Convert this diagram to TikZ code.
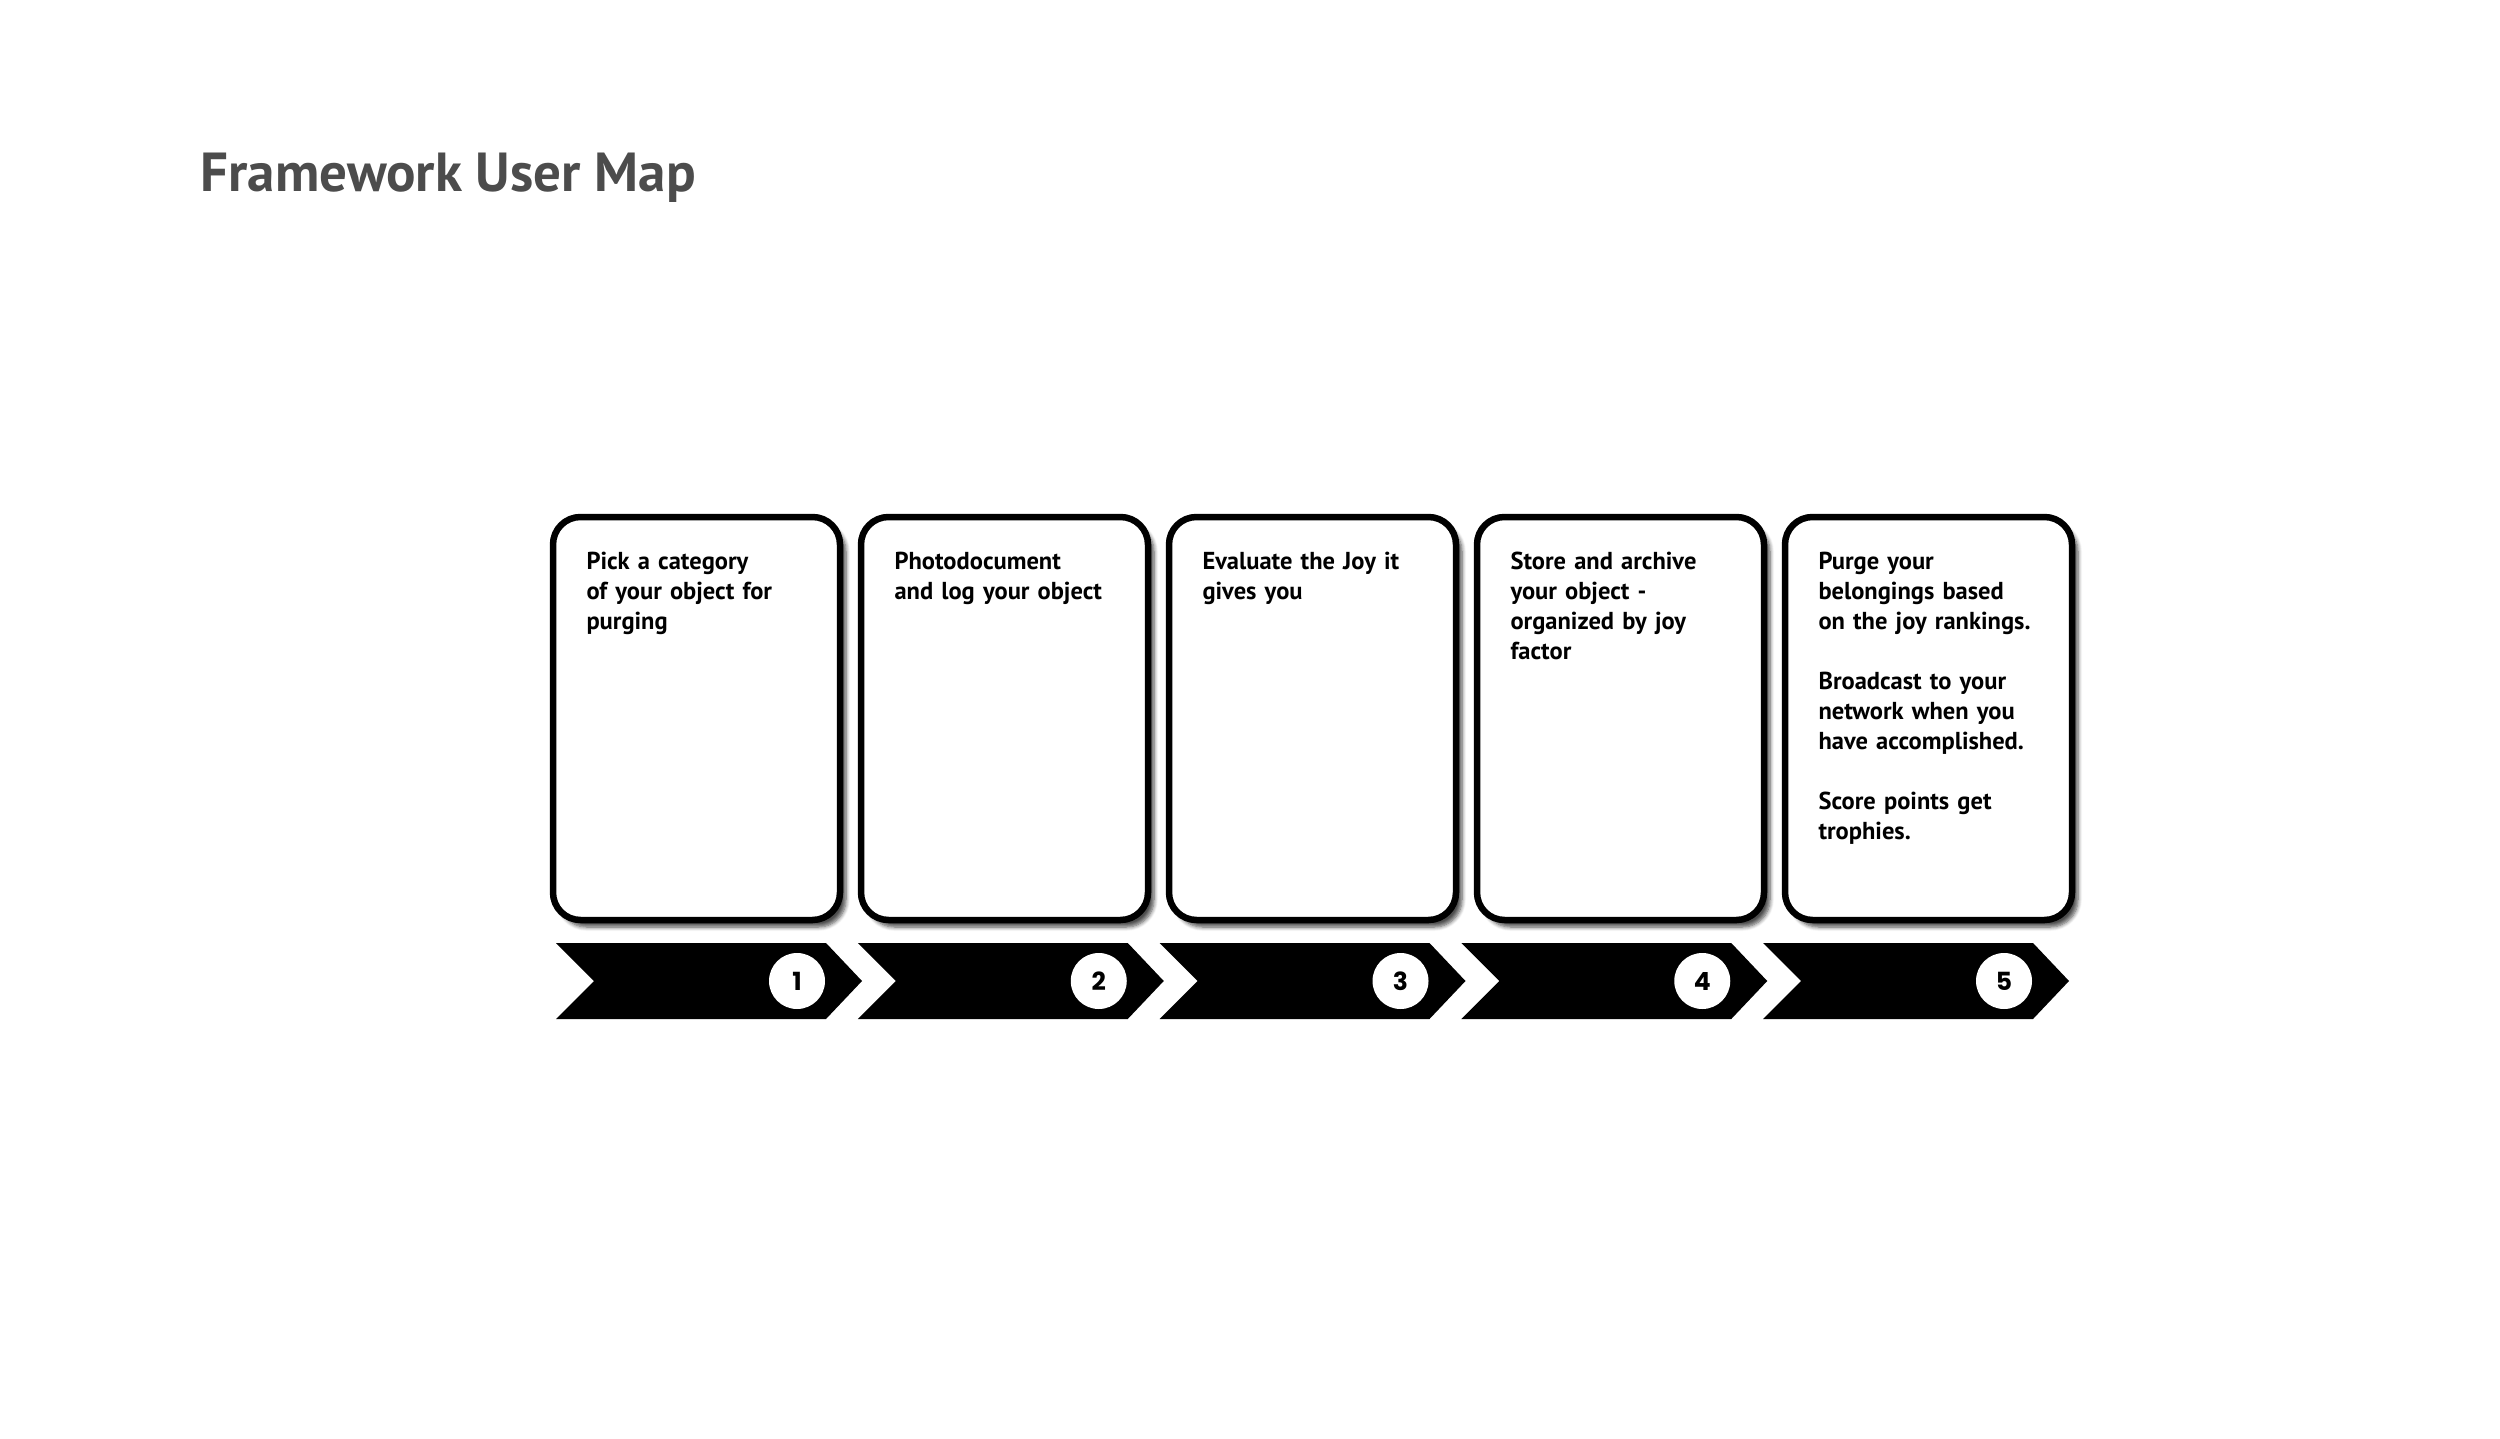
\documentclass[tikz,border=0pt]{standalone}
\usepackage{fontspec}
\setmainfont{PT Sans}
\newfontfamily\numfont{Poppins}[UprightFont=* Bold]
\usetikzlibrary{shadows.blur}
\tikzset{
  card/.style={draw=black,line width=2.6pt,fill=white,rounded corners=11pt,
    blur shadow={shadow xshift=2.4pt,shadow yshift=-2.8pt,shadow blur steps=6,shadow blur radius=1.6pt,shadow opacity=70}},
  cardtext/.style={anchor=north west,inner sep=0pt,text width=115pt,align=left,
    font=\fontsize{9.8pt}{12pt}\selectfont\bfseries},
  chev/.style={fill=black,draw=none},
  numc/.style={circle,fill=white,minimum size=22.4pt,inner sep=0pt,font=\numfont\fontsize{10pt}{10pt}\selectfont}
}
\begin{document}
\begin{tikzpicture}[x=0.4pt,y=-0.4pt]
\useasboundingbox (0,0) rectangle (2500,1439);
\node[anchor=base west,inner sep=0pt,text=black!70,font=\fontsize{22pt}{22pt}\selectfont\bfseries] (title) at (200,192) {Framework User Map};
\foreach \i/\t in {1/{Pick a category\\of your object for\\purging},
                   2/{Photodocument\\and log your object},
                   3/{Evaluate the Joy it\\gives you},
                   4/{Store and archive\\your object -\\organized by joy\\factor},
                   5/{Purge your\\belongings based\\on the joy rankings.\\[12pt]Broadcast to your\\network when you\\have accomplished.\\[12pt]Score points get\\trophies.}}{
  \pgfmathsetmacro\cx{553+308*(\i-1)}
  \pgfmathsetmacro\vx{556+301.75*(\i-1)}
  \draw[card] (\cx,517) rectangle ++(287,403);
  \node[cardtext] (t\i) at (\cx+33,552) {\t};
  \fill[chev] (\vx,943) -- ++(270,0) -- ++(36,38) -- ++(-36,38) -- ++(-270,0) -- ++(38,-38) -- cycle;
  \node[numc] (n\i) at (\vx+241,981) {\i};
}
\end{tikzpicture}
\end{document}
